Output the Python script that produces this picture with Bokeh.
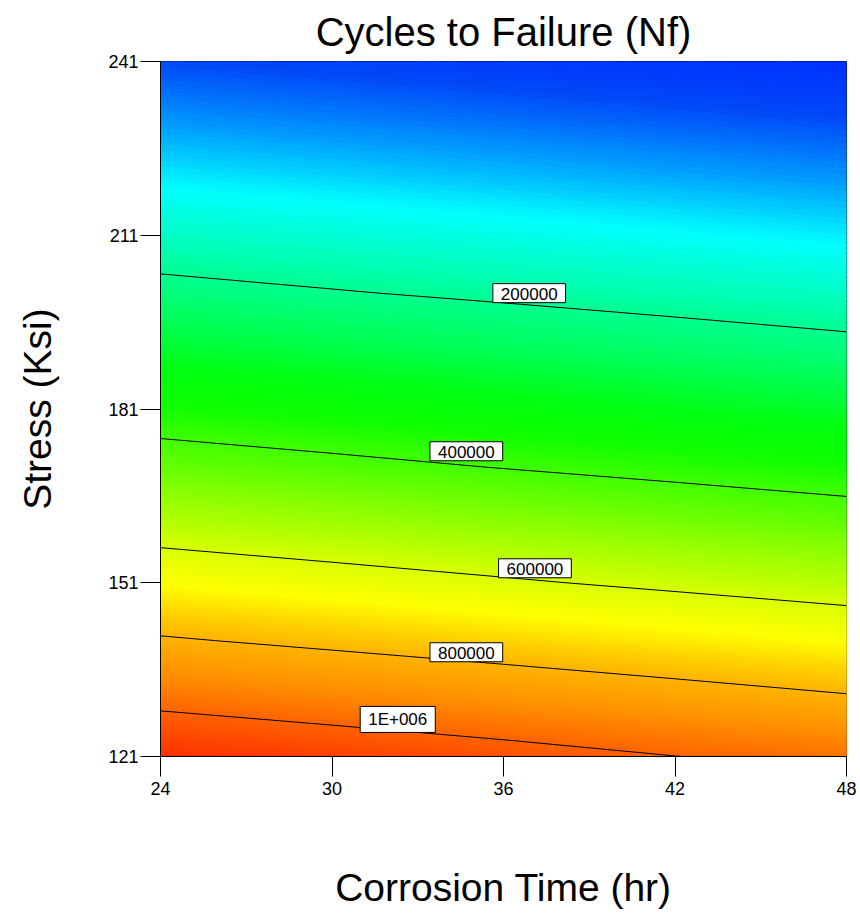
import numpy as np
from bokeh.plotting import figure
from bokeh.models import FixedTicker, Range1d
from bokeh.core.properties import value, field
from bokeh.embed import file_html
from bokeh.resources import INLINE

# ---------------- data ----------------
time_hr = [24, 30, 36, 42, 48]
stress_ksi = [121, 131, 141, 151, 161, 171, 181, 191, 201, 211, 221, 231, 241]
# Nf (cycles) on the grid: rows = stress_ksi, columns = time_hr
nf_cycles = [
    [1132500, 1089000, 1046500, 1001500, 964300],
    [964300, 924700, 886000, 848300, 811500],
    [811500, 775700, 740800, 706900, 674000],
    [674000, 642000, 610900, 580900, 551800],
    [551800, 523600, 496400, 470200, 444900],
    [444900, 420600, 397200, 374800, 353300],
    [353300, 332800, 313300, 294700, 277100],
    [277100, 260500, 244700, 230000, 216200],
    [216200, 203400, 191000, 179000, 167500],
    [167500, 156000, 145000, 134000, 123500],
    [123500, 113000, 103000, 93500, 84000],
    [84000, 75000, 66500, 58000, 50000],
    [50000, 42500, 35000, 28000, 21000],
]
contour_levels = [200000, 400000, 600000, 800000, 1000000]
contour_labels = ["200000", "400000", "600000", "800000", "1E+006"]
label_time = [36.9, 34.7, 37.1, 34.7, 32.3]
label_stress = [201.0, 173.7, 153.5, 139.0, 127.4]
x_ticks = [24, 30, 36, 42, 48]
y_ticks = [121, 151, 181, 211, 241]

# ---------------- colour scale (style) ----------------
stop_vals = [20e3, 50e3, 90e3, 132e3, 170e3, 200e3, 300e3, 350e3, 400e3,
             500e3, 600e3, 680e3, 750e3, 800e3, 900e3, 1000e3, 1135e3]
stop_cols = ["#0030ff", "#0048f8", "#00a0ff", "#00ffff", "#00ffc0", "#00ff90",
             "#00ff10", "#10ff00", "#40ff00", "#90ff00", "#d8ff00", "#ffff00",
             "#ffd000", "#ffb400", "#ff9000", "#ff6400", "#ff3000"]


def hex_rgb(h):
    return [int(h[i:i + 2], 16) for i in (1, 3, 5)]


stop_rgb = np.array([hex_rgb(c) for c in stop_cols], dtype=float)

z = np.array(nf_cycles, dtype=float)
fill_levels = np.linspace(z.min() - 1000, z.max() + 1000, 301)
mids = 0.5 * (fill_levels[:-1] + fill_levels[1:])
band_colors = []
for m in mids:
    rgb = [int(round(np.interp(m, stop_vals, stop_rgb[:, k]))) for k in range(3)]
    band_colors.append("#%02x%02x%02x" % tuple(rgb))

FONT = "Liberation Sans"

p = figure(width=860, height=918,
           x_range=Range1d(24, 48), y_range=Range1d(121, 241),
           output_backend="svg", toolbar_location=None,
           min_border_left=160, min_border_right=14,
           min_border_top=61, min_border_bottom=162)

fill = p.contour(x=np.array(time_hr, float), y=np.array(stress_ksi, float), z=z,
                 levels=list(fill_levels), fill_color=band_colors)
g = fill.fill_renderer.glyph
g.line_color = field("fill_color")
g.line_alpha = 1.0
g.line_width = 2
g.line_join = "round"

p.contour(x=np.array(time_hr, float), y=np.array(stress_ksi, float), z=z,
          levels=contour_levels, line_color="black", line_width=1)

p.text(x=label_time, y=label_stress, text=contour_labels,
       text_font=value(FONT), text_font_size="17px", text_color="black",
       text_align="center", text_baseline="middle",
       background_fill_color="white", border_line_color="black",
       border_line_width=1, padding=dict(left=8, right=8, top=4, bottom=3))

p.title.text = "Cycles to Failure (Nf)"
p.title.align = "center"
p.title.text_font = FONT
p.title.text_font_size = "40px"
p.title.text_font_style = "normal"
p.title.text_color = "black"
p.title.standoff = 15

p.xgrid.visible = False
p.ygrid.visible = False
p.outline_line_color = "black"
p.outline_line_width = 1

for ax, ticks in ((p.xaxis, x_ticks), (p.yaxis, y_ticks)):
    ax.ticker = FixedTicker(ticks=ticks)
    ax.major_tick_out = 20
    ax.major_tick_in = 0
    ax.minor_tick_out = 0
    ax.minor_tick_in = 0
    ax.axis_line_color = "black"
    ax.major_tick_line_color = "black"
    ax.major_label_text_font = FONT
    ax.major_label_text_font_size = "18px"
    ax.major_label_text_color = "black"
    ax.axis_label_text_font = FONT
    ax.axis_label_text_font_size = "39px"
    ax.axis_label_text_font_style = "normal"
    ax.axis_label_text_color = "black"

p.xaxis.axis_label = "Corrosion Time (hr)"
p.xaxis.major_label_standoff = 5
p.xaxis.axis_label_standoff = 68
p.yaxis.axis_label = "Stress (Ksi)"
p.yaxis.major_label_standoff = 2
p.yaxis.axis_label_standoff = 46

open("out.html", "w").write(file_html(p, INLINE))
